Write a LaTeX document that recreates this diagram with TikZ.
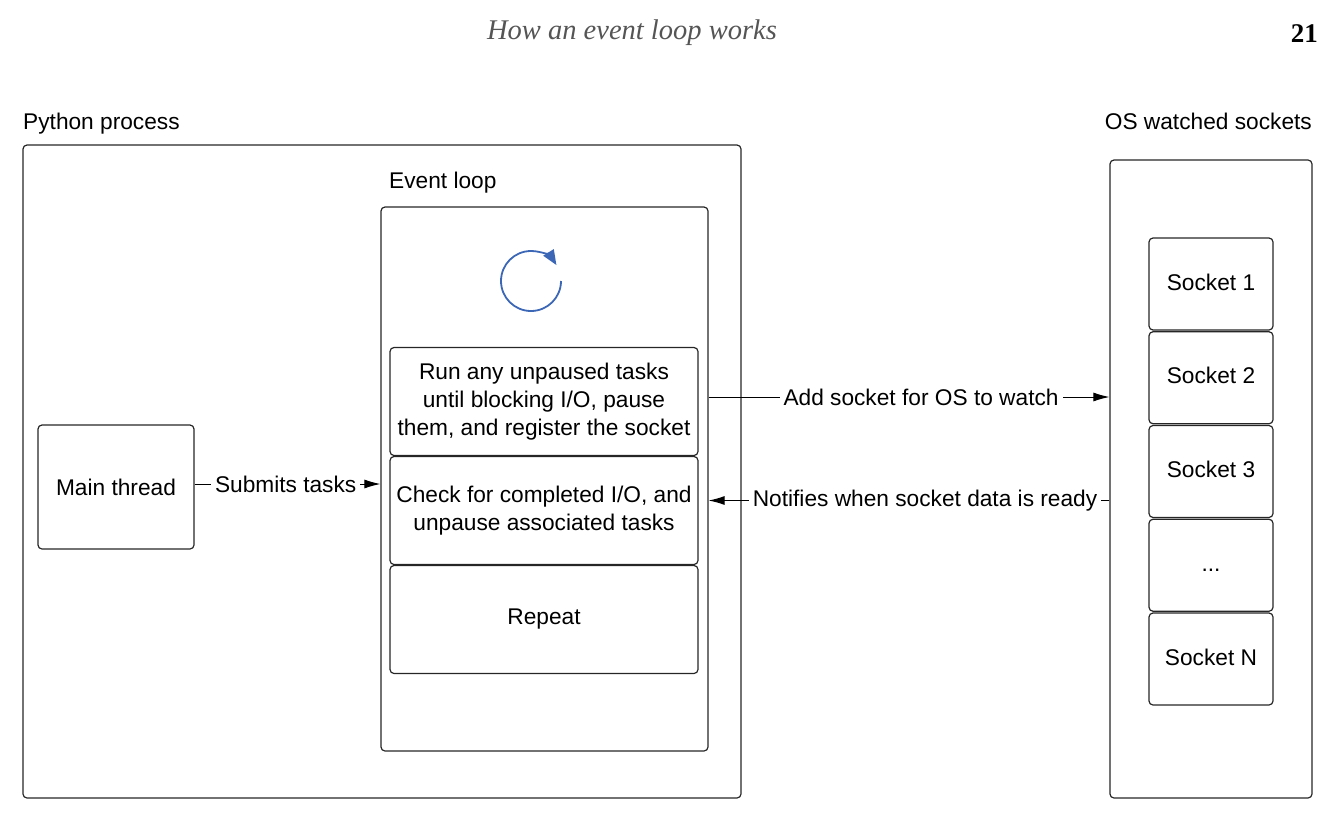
\documentclass[tikz,border=0pt]{standalone}
\usepackage{fontspec}
\setmainfont{Liberation Sans}
\newfontfamily\headfont{Liberation Serif}
\usetikzlibrary{arrows.meta}
\tikzset{>={Latex[length=16pt,width=9pt]}}
\definecolor{loopblue}{HTML}{3B67B6}
\definecolor{headgray}{HTML}{555555}

\begin{document}
\begin{tikzpicture}[x=1pt,y=-1pt,line join = round,
    box/.style={draw=black!85,line width=1.2pt,rounded corners=4pt,inner sep=0pt},
    step box/.style={box,minimum width=308,minimum height=108,align=center},
    sock/.style={box,minimum width=124,minimum height=92,text height=17pt,text depth=5pt},
    lbl/.style={fill=white,inner sep=4pt},
    conn/.style={line width=1pt,-{Latex[length=16pt,width=9pt]}},
    every node/.style={font=\fontsize{22.7}{28}\selectfont}]
    \useasboundingbox (0,0) rectangle (1339,822);
    \node[font=\headfont\itshape\fontsize{28.5}{30}\selectfont,text=headgray,anchor=base] (title) at (632,39) {How an event loop works};
    \node[font=\headfont\bfseries\fontsize{27}{28}\selectfont,anchor=base east,inner sep=0pt] (page) at (1318,42) {21};

    \node[anchor=base west,inner sep=0pt] (pylabel) at (23,129) {Python process};
    \node[box,minimum width=718,minimum height=653] (python) at (382,471.5) {};
    \node[anchor=base west,inner sep=0pt] (looplabel) at (389,188) {Event loop};
    \node[box,minimum width=327,minimum height=544] (loop) at (544.5,479) {};
    \draw[loopblue,line width=1.8pt,-{Triangle[length=15pt,width=12pt]}] (561,281) arc[start angle=0,end angle=-328,radius=30pt];
    \node[step box] (run) at (544,401.5) {Run any unpaused tasks\\until blocking I/O, pause\\them, and register the socket};
    \node[step box] (check) at (544,510.5) {Check for completed I/O, and\\unpause associated tasks};
    \node[step box] (repeat) at (544,619.5) {Repeat};
    \node[box,minimum width=156,minimum height=124] (main) at (116,487) {Main thread};

    \node[anchor=base east,inner sep=0pt] (oslabel) at (1312,129) {OS watched sockets};
    \node[box,minimum width=202,minimum height=638] (os) at (1211,479) {};
    \foreach \i/\t in {0/Socket 1,1/Socket 2,2/Socket 3,3/{...},4/Socket N}
        \node[sock] (sock\i) at (1211,{284+93.75*\i}) {\t};

    \draw[conn] ([yshift=3pt]main.east) -- ([yshift=3pt]main.east -| loop.west) node[lbl,pos=.49] {Submits tasks};
    \draw[conn] ([yshift=4.5pt]run.east -| loop.east) -- ([yshift=4.5pt]run.east -| os.west) node[lbl,pos=.53] {Add socket for OS to watch};
    \draw[conn] ([yshift=10pt]check.east -| os.west) -- ([yshift=10pt]check.east -| loop.east) node[lbl,pos=.46] {Notifies when socket data is ready};
\end{tikzpicture}
\end{document}
